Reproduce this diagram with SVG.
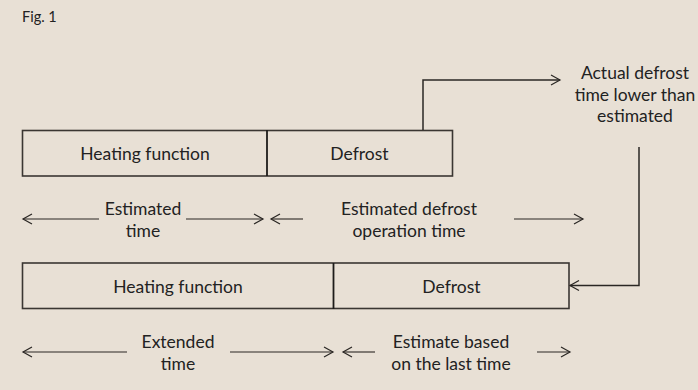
<svg xmlns="http://www.w3.org/2000/svg" width="698" height="390" viewBox="0 0 698 390">
<defs>
<marker id="ah" markerWidth="12" markerHeight="12" refX="10" refY="6" orient="auto" markerUnits="userSpaceOnUse">
<path d="M1,1 L10,6 L1,11" fill="none" stroke="#2a2724" stroke-width="1.2"/>
</marker>
<style>
.bg{fill:#e8e0d5}
.box{fill:none;stroke:#3a3632;stroke-width:1.6}
.div{stroke:#1e1c1a;stroke-width:1.8}
.con{fill:none;stroke:#2a2724;stroke-width:1.5}
.dim{fill:none;stroke:#2a2724;stroke-width:1.1}
text{font-family:"Lato","Liberation Sans",sans-serif;font-size:17.5px;fill:#222;text-anchor:middle}
.fig{font-size:14.5px;text-anchor:start}
</style>
</defs>
<rect class="bg" x="0" y="0" width="698" height="390"/>
<text class="fig" x="22" y="22">Fig. 1</text>
<g id="top-row">
<rect class="box" x="22.5" y="130.5" width="430" height="45.5"/>
<line class="div" x1="267" y1="130" x2="267" y2="176"/>
<text x="145" y="159.5">Heating function</text>
<text x="359.5" y="159.5">Defrost</text>
</g>
<g id="bottom-row">
<rect class="box" x="22.5" y="263" width="546.5" height="45.5"/>
<line class="div" x1="333.5" y1="263" x2="333.5" y2="309"/>
<text x="178" y="292.5">Heating function</text>
<text x="451.5" y="292.5">Defrost</text>
</g>
<g id="note">
<text x="635" y="79">Actual defrost</text>
<text x="635" y="100.5">time lower than</text>
<text x="635" y="122">estimated</text>
</g>
<g id="labels">
<text x="143" y="214.5">Estimated</text>
<text x="143" y="237">time</text>
<text x="409" y="214.5">Estimated defrost</text>
<text x="409" y="237">operation time</text>
<text x="178" y="347.5">Extended</text>
<text x="178" y="370">time</text>
<text x="451" y="347.5">Estimate based</text>
<text x="451" y="370">on the last time</text>
</g>
<g id="connectors">
<polyline class="con" points="423,130 423,80 560,80" marker-end="url(#ah)"/>
<polyline class="con" points="639,147 639,285.5 570,285.5" marker-end="url(#ah)"/>
<line class="dim" x1="99" y1="219" x2="23" y2="219" marker-end="url(#ah)"/>
<line class="dim" x1="186" y1="219" x2="263" y2="219" marker-end="url(#ah)"/>
<line class="dim" x1="303" y1="219" x2="271" y2="219" marker-end="url(#ah)"/>
<line class="dim" x1="514" y1="219" x2="583" y2="219" marker-end="url(#ah)"/>
<line class="dim" x1="127" y1="352" x2="23" y2="352" marker-end="url(#ah)"/>
<line class="dim" x1="230" y1="352" x2="333" y2="352" marker-end="url(#ah)"/>
<line class="dim" x1="375" y1="352" x2="343" y2="352" marker-end="url(#ah)"/>
<line class="dim" x1="537" y1="352" x2="570" y2="352" marker-end="url(#ah)"/>
</g>
</svg>
